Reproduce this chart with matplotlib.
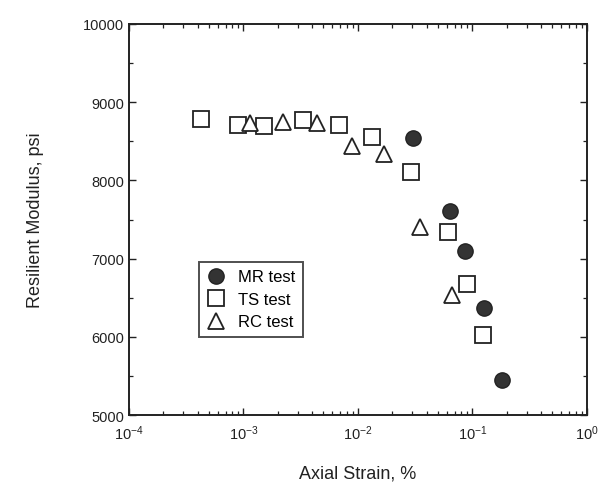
import matplotlib
matplotlib.use("Agg")
import matplotlib.pyplot as plt
from matplotlib.ticker import MultipleLocator, LogLocator, NullFormatter

plt.rcParams['font.family'] = ['Liberation Sans', 'DejaVu Sans']
plt.rcParams['mathtext.fontset'] = 'custom'
plt.rcParams['mathtext.rm'] = 'Liberation Sans'
plt.rcParams['mathtext.it'] = 'Liberation Sans:italic'
plt.rcParams['mathtext.bf'] = 'Liberation Sans:bold'

# Data
mr_strain = [0.0301, 0.0636, 0.087, 0.1267, 0.182]
mr_modulus = [8542, 7613, 7093, 6368, 5448]

ts_strain = [4.3e-4, 9.0e-4, 1.51e-3, 3.33e-3, 6.78e-3, 0.01324, 0.0292, 0.0607, 0.0901, 0.1228]
ts_modulus = [8785, 8708, 8692, 8772, 8712, 8551, 8112, 7336, 6675, 6023]

rc_strain = [1.14e-3, 2.23e-3, 4.42e-3, 8.9e-3, 0.017, 0.0347, 0.0658]
rc_modulus = [8740, 8745, 8740, 8435, 8335, 7410, 6535]

fig = plt.figure(figsize=(6.05, 4.89), dpi=100)
ax = fig.add_axes([0.213, 0.149, 0.757, 0.800])

ax.plot(mr_strain, mr_modulus, 'o', ms=11, color='#333333', mec='#222222', label='MR test', zorder=3)
ax.plot(ts_strain, ts_modulus, 's', ms=11.5, mfc='white', mec='#222222', mew=1.3, label='TS test', zorder=2)
ax.plot(rc_strain, rc_modulus, '^', ms=12, mfc='white', mec='#222222', mew=1.3, label='RC test', zorder=2)

ax.set_xscale('log')
ax.set_xlim(1e-4, 1e0)
ax.set_ylim(5000, 10000)
ax.yaxis.set_major_locator(MultipleLocator(1000))
ax.yaxis.set_minor_locator(MultipleLocator(500))
ax.xaxis.set_major_locator(LogLocator(base=10, numticks=10))
ax.xaxis.set_minor_locator(LogLocator(base=10, subs=range(2, 10), numticks=10))
ax.xaxis.set_minor_formatter(NullFormatter())

ax.tick_params(which='both', direction='in', top=True, right=True, colors='#222222', labelcolor='#222222', labelsize=10.5)
ax.tick_params(which='major', length=5, width=1.0)
ax.tick_params(which='minor', length=3, width=0.9)
ax.tick_params(axis='x', pad=6)
for s in ax.spines.values():
    s.set_linewidth(1.4)
    s.set_color('#222222')

ax.set_xlabel('Axial Strain, %', fontsize=13, color='#222222', labelpad=16)
ax.set_ylabel('Resilient Modulus, psi', fontsize=13, color='#222222', labelpad=28)

leg = ax.legend(loc='lower left', bbox_to_anchor=(0.153, 0.2), frameon=True, fancybox=False,
                edgecolor='#222222', fontsize=12, handletextpad=0.7, borderpad=0.45,
                labelspacing=0.45, handlelength=1.2, borderaxespad=0)
leg.get_frame().set_linewidth(1.4)

fig.savefig('out.png', dpi=100)
